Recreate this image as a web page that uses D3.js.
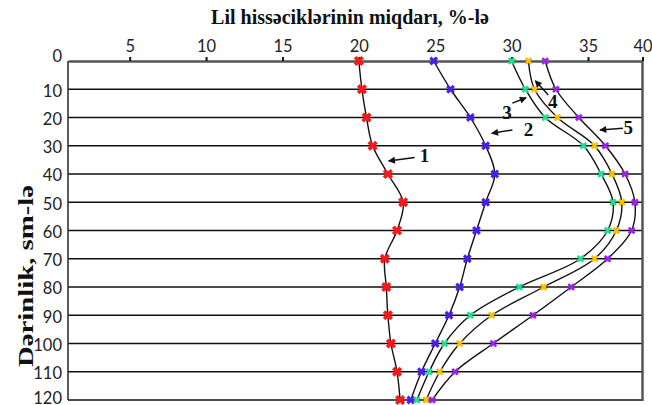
<!DOCTYPE html>
<head>
    <title> Lil profili </title>
</head>
<style>
    body { margin: 0; background: #fff; }
    .tick text { font-family: Lato, "Noto Sans", sans-serif; font-size: 16.5px; fill: #222; }
    .grid-line { stroke: #111; stroke-width: 1.5px; }
    .curve { fill: none; stroke: #111; stroke-width: 1.4px; }
    .label { font-family: "Liberation Serif", "DejaVu Serif", serif; font-weight: bold; fill: #111; }
</style>
<body>
<script src="https://cdnjs.cloudflare.com/ajax/libs/d3/7.8.5/d3.min.js"></script>
<script>
// depth, cm
var depths = [0, 10, 20, 30, 40, 50, 60, 70, 80, 90, 100, 110, 120];
// clay content, %
var series1 = [20.0, 20.2, 20.5, 20.9, 21.9, 22.9, 22.5, 21.7, 21.8, 21.9, 22.1, 22.5, 22.7];
var series2 = [24.9, 26.0, 27.3, 28.3, 28.9, 28.3, 27.7, 27.1, 26.6, 25.9, 25.0, 24.1, 23.4];
var series3 = [30.0, 30.9, 32.2, 34.7, 36.2, 37.3, 36.8, 34.5, 30.5, 27.3, 25.6, 24.6, 23.8];
var series4 = [31.1, 31.5, 33.0, 35.6, 37.2, 38.1, 37.6, 35.6, 32.1, 28.7, 26.6, 25.3, 24.4];
var series5 = [32.2, 32.9, 34.4, 36.6, 38.4, 39.3, 39.0, 36.8, 33.9, 31.4, 28.8, 26.3, 24.8];
var seriesNames = ["1", "2", "3", "4", "5"];
var seriesColors = ["#ff1616", "#4a1cee", "#1fe08e", "#f7c000", "#9b22ee"];
var xTicks = [5, 10, 15, 20, 25, 30, 35, 40];
var yTicks = depths;
var titleText = "Lil hissəciklərinin miqdarı, %-lə";
var yTitleText = "Dərinlik, sm-lə";
// curve labels: text point and arrow (from -> to), in data units (%, cm)
var labelPoints = [[24.3, 33.6], [31.1, 24.1], [29.7, 18.1], [32.7, 14.5], [38.7, 23.7]];
var arrowFrom = [[23.65, 34.2], [30.05, 24.4], [30.05, 14.9], [32.4, 12.0], [38.2, 23.8]];
var arrowTo = [[21.95, 35.4], [28.7, 25.6], [30.95, 13.0], [31.55, 7.0], [36.1, 24.4]];

var width = 652,
    height = 405;
var plotLeft = 68, plotRight = 642.5, plotTop = 61, plotBottom = 400;

var svg = d3.select("body")
            .append("svg")
            .attr("width", width)
            .attr("height", height);

// the original axis is not evenly spaced at its ends
var x = d3.scaleLinear()
            .domain([0, 5, 35, 40])
            .range([plotLeft, plotLeft + 61.7, plotLeft + 520, plotRight]);

var y = d3.scaleLinear()
            .domain([0, 120])
            .range([plotTop, plotBottom]);

var allSeries = [series1, series2, series3, series4, series5];

// horizontal grid lines
svg.append("g")
    .selectAll("line")
    .data(yTicks.slice(1))
    .enter()
    .append("line")
    .attr("class", "grid-line")
    .attr("x1", plotLeft)
    .attr("x2", plotRight)
    .attr("y1", function(d){ return y(d); })
    .attr("y2", function(d){ return y(d); });

// frame
svg.append("line")
    .attr("x1", plotLeft).attr("x2", plotLeft)
    .attr("y1", plotTop).attr("y2", plotBottom)
    .style("stroke", "#333").style("stroke-width", 1.6);
svg.append("line")
    .attr("x1", plotRight).attr("x2", plotRight)
    .attr("y1", plotTop).attr("y2", plotBottom + 1)
    .style("stroke", "#555").style("stroke-width", 2.5);

// top axis
var xAxis = svg.append("g")
    .attr("transform", "translate(0," + plotTop + ")")
    .call(d3.axisTop(x).tickValues(xTicks).tickSize(4).tickSizeOuter(0).tickPadding(5));
xAxis.select(".domain").style("stroke", "#555").style("stroke-width", 2.5);
xAxis.selectAll(".tick line").style("stroke", "#111").style("stroke-width", 2);

// left axis labels
var yAxis = svg.append("g")
    .attr("transform", "translate(" + plotLeft + ",0)")
    .call(d3.axisLeft(y).tickValues(yTicks).tickSize(0).tickPadding(6));
yAxis.select(".domain").remove();
yAxis.selectAll(".tick text").attr("dy", "0.42em");
yAxis.selectAll(".tick text").filter(function(d){ return d == 0; }).attr("dy", "0.05em");
yAxis.selectAll(".tick text").filter(function(d){ return d == 120; }).attr("dy", "0.2em");

// curves
var line = d3.line()
    .x(function(d){ return x(d[0]); })
    .y(function(d){ return y(d[1]); })
    .curve(d3.curveCatmullRom.alpha(0.5));

allSeries.forEach(function(s, i){
    var pts = s.map(function(v, j){ return [v, depths[j]]; });
    svg.append("path")
        .datum(pts)
        .attr("class", "curve")
        .attr("d", line);
});

// markers
var sizes = [64, 48, 36, 36, 36];
allSeries.forEach(function(s, i){
    var pts = s.map(function(v, j){ return [v, depths[j]]; });
    svg.append("g")
        .selectAll("path")
        .data(pts)
        .enter()
        .append("path")
        .attr("d", d3.symbol(d3.symbolCross, sizes[i]))
        .attr("transform", function(d){
            return "translate(" + x(d[0]) + "," + y(d[1]) + ") rotate(45)";
        })
        .style("fill", seriesColors[i]);
});

// arrow heads
svg.append("defs").append("marker")
    .attr("id", "head")
    .attr("viewBox", "0 0 10 10")
    .attr("refX", 9).attr("refY", 5)
    .attr("markerWidth", 9).attr("markerHeight", 7)
    .attr("markerUnits", "userSpaceOnUse")
    .attr("orient", "auto")
    .append("path")
    .attr("d", "M0,0 L10,5 L0,10 z")
    .style("fill", "#111");

seriesNames.forEach(function(name, i){
    svg.append("line")
        .attr("x1", x(arrowFrom[i][0])).attr("y1", y(arrowFrom[i][1]))
        .attr("x2", x(arrowTo[i][0])).attr("y2", y(arrowTo[i][1]))
        .style("stroke", "#111").style("stroke-width", 1.5)
        .attr("marker-end", "url(#head)");
    svg.append("text")
        .attr("class", "label")
        .attr("x", x(labelPoints[i][0]))
        .attr("y", y(labelPoints[i][1]))
        .attr("text-anchor", "middle")
        .attr("dominant-baseline", "central")
        .style("font-size", "19px")
        .text(name);
});

// titles
svg.append("text")
    .attr("class", "label")
    .attr("x", 350)
    .attr("y", 24)
    .attr("text-anchor", "middle")
    .style("font-size", "20px")
    .text(titleText);

svg.append("text")
    .attr("class", "label")
    .attr("transform", "translate(33,276) rotate(-90)")
    .attr("text-anchor", "middle")
    .attr("textLength", 182)
    .attr("lengthAdjust", "spacingAndGlyphs")
    .style("font-size", "20px")
    .text(yTitleText);
</script>
</body>
